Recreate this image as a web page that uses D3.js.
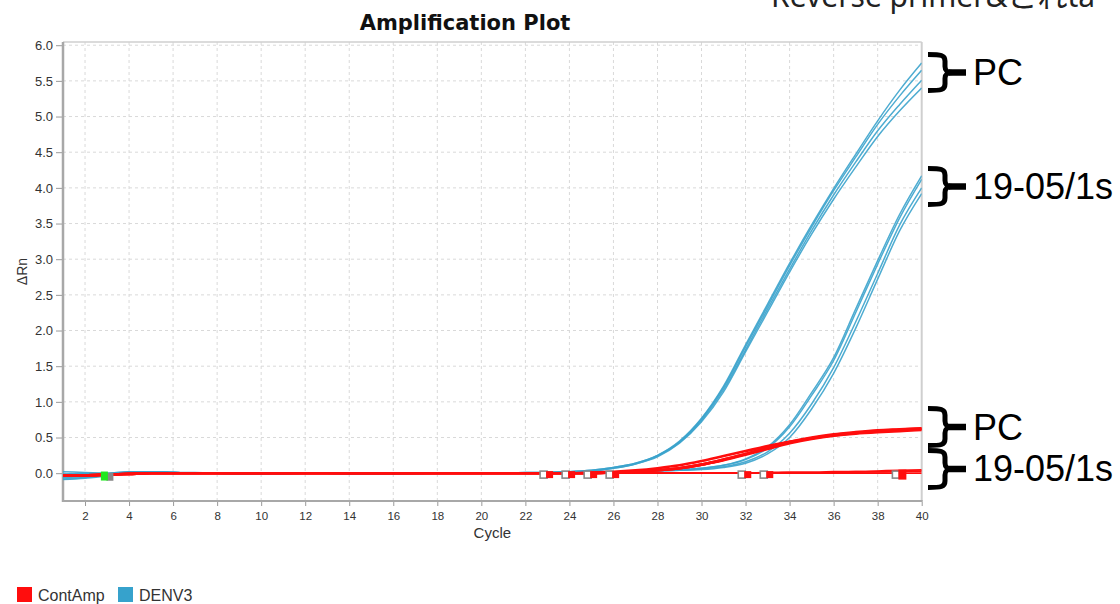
<!DOCTYPE html>
<html>
<head>
<meta charset="utf-8">
<script src="https://cdn.jsdelivr.net/npm/d3@7"></script>
<style>
  html, body { margin: 0; padding: 0; background: #fff; }
  svg { display: block; }
</style>
</head>
<body>
<svg id="chart" width="1120" height="604"></svg>
<script>
// ---------------- DATA ----------------
const cycles = [1,2,3,4,5,6,7,8,9,10,11,12,13,14,15,16,17,18,19,20,21,22,23,24,25,26,27,28,29,30,31,32,33,34,35,36,37,38,39,40];
const xTicks = [2,4,6,8,10,12,14,16,18,20,22,24,26,28,30,32,34,36,38,40];
const yTicks = [0.0,0.5,1.0,1.5,2.0,2.5,3.0,3.5,4.0,4.5,5.0,5.5,6.0];

// DENV3 – PC wells
const denvPC1 = [0.02,0.01,0.0,0.02,0.02,0.01,0.01,0.0,0.0,0.0,0.0,0.0,0.0,0.0,0.0,0.0,0.0,0.0,0.0,0.0,0.0,0.01,0.01,0.02,0.04,0.08,0.14,0.25,0.45,0.77,1.22,1.8,2.37,2.94,3.48,3.99,4.47,4.94,5.37,5.75];
const denvPC2 = [-0.02,-0.01,-0.01,0.01,0.02,0.01,0.0,0.0,0.0,-0.01,0.0,0.0,0.0,0.0,-0.01,-0.01,0.0,0.0,0.0,0.0,0.0,0.01,0.01,0.02,0.04,0.08,0.14,0.25,0.44,0.76,1.2,1.77,2.34,2.91,3.45,3.96,4.43,4.89,5.29,5.65];
const denvPC3 = [-0.06,-0.05,-0.03,0.0,0.02,0.01,0.0,0.0,-0.01,0.0,-0.01,0.0,0.0,-0.01,-0.01,-0.01,0.0,0.0,0.0,0.0,0.0,0.0,0.01,0.02,0.03,0.07,0.13,0.24,0.43,0.74,1.17,1.73,2.3,2.86,3.4,3.9,4.36,4.8,5.17,5.51];
const denvPC4 = [-0.09,-0.07,-0.04,0.0,0.01,0.01,0.0,0.0,-0.01,-0.01,-0.01,0.0,0.0,-0.01,-0.01,-0.01,-0.01,0.0,0.0,0.0,0.0,0.0,0.01,0.01,0.03,0.07,0.13,0.23,0.42,0.72,1.14,1.7,2.26,2.82,3.35,3.84,4.29,4.72,5.08,5.4];
// DENV3 – sample 19-05/1s wells
const denvS1 = [-0.01,0.0,0.0,0.02,0.02,0.01,0.0,0.0,0.0,0.0,0.0,0.0,0.0,0.0,0.0,0.0,0.0,0.0,0.0,0.0,0.0,0.0,0.01,0.01,0.01,0.02,0.03,0.04,0.05,0.07,0.11,0.2,0.37,0.68,1.13,1.62,2.3,2.98,3.63,4.17];
const denvS2 = [-0.03,-0.02,-0.01,0.01,0.02,0.01,0.0,0.0,0.0,0.0,0.0,0.0,0.0,0.0,0.0,0.0,0.0,0.0,0.0,0.0,0.0,0.0,0.0,0.01,0.01,0.02,0.03,0.04,0.05,0.07,0.11,0.19,0.35,0.65,1.09,1.58,2.25,2.93,3.58,4.12];
const denvS3 = [-0.05,-0.04,-0.02,0.01,0.02,0.01,0.0,0.0,-0.01,0.0,0.0,0.0,0.0,-0.01,0.0,0.0,0.0,0.0,0.0,0.0,0.0,0.0,0.0,0.01,0.01,0.02,0.02,0.03,0.04,0.06,0.09,0.16,0.3,0.56,0.97,1.48,2.12,2.8,3.48,4.0];
const denvS4 = [-0.08,-0.06,-0.03,0.0,0.01,0.01,0.0,0.0,-0.01,-0.01,0.0,0.0,0.0,-0.01,-0.01,0.0,0.0,0.0,0.0,0.0,0.0,0.0,0.0,0.0,0.01,0.01,0.02,0.03,0.04,0.05,0.08,0.14,0.27,0.5,0.9,1.4,2.03,2.72,3.4,3.92];
// ContAmp – PC wells (rising)
const contPC1 = [-0.03,-0.03,-0.02,-0.01,0.0,0.0,0.0,0.0,0.0,0.0,0.0,0.0,0.0,0.0,0.0,0.0,0.0,0.0,0.0,0.0,0.0,0.0,0.0,0.0,0.01,0.02,0.04,0.07,0.11,0.17,0.24,0.31,0.38,0.44,0.49,0.53,0.565,0.59,0.61,0.625];
const contPC2 = [-0.03,-0.03,-0.02,-0.01,0.0,0.0,0.0,0.0,0.0,0.0,0.0,0.0,0.0,0.0,0.0,0.0,0.0,0.0,0.0,0.0,0.0,0.0,0.0,0.0,0.0,0.01,0.02,0.04,0.07,0.12,0.19,0.27,0.35,0.43,0.49,0.535,0.565,0.585,0.6,0.615];
const contPC3 = [-0.03,-0.03,-0.02,-0.01,0.0,0.0,0.0,0.0,0.0,0.0,0.0,0.0,0.0,0.0,0.0,0.0,0.0,0.0,0.0,0.0,0.0,0.0,0.0,0.0,0.0,0.01,0.02,0.04,0.07,0.12,0.18,0.26,0.34,0.42,0.48,0.525,0.555,0.575,0.59,0.605];
const contPC4 = [-0.03,-0.03,-0.02,-0.01,0.0,0.0,0.0,0.0,0.0,0.0,0.0,0.0,0.0,0.0,0.0,0.0,0.0,0.0,0.0,0.0,0.0,0.0,0.0,0.0,0.0,0.01,0.02,0.04,0.07,0.12,0.19,0.27,0.36,0.44,0.5,0.545,0.575,0.6,0.615,0.63];
// ContAmp – sample 19-05/1s wells (flat)
const contS1 = [-0.03,-0.03,-0.02,-0.01,0.0,0.0,0.0,0.0,0.0,0.0,0.0,0.0,0.0,0.0,0.0,0.0,0.0,0.0,0.0,0.0,0.0,0.0,0.0,0.0,0.0,0.0,0.0,0.0,0.0,0.0,0.0,0.0,0.01,0.01,0.01,0.02,0.02,0.03,0.04,0.045];
const contS2 = [-0.03,-0.03,-0.02,-0.01,0.0,0.0,0.0,0.0,0.0,0.0,0.0,0.0,0.0,0.0,0.0,0.0,0.0,0.0,0.0,0.0,0.0,0.0,0.0,0.0,0.0,0.0,0.0,0.0,0.0,0.0,0.0,0.0,0.0,0.01,0.01,0.01,0.02,0.02,0.025,0.03];
const contS3 = [-0.03,-0.03,-0.02,-0.01,0.0,0.0,0.0,0.0,0.0,0.0,0.0,0.0,0.0,0.0,0.0,0.0,0.0,0.0,0.0,0.0,0.0,0.0,0.0,0.0,0.0,0.0,0.0,0.0,0.0,0.0,0.0,0.0,0.0,0.0,0.0,0.0,0.0,0.0,0.0,0.0];

const denvSeries = [denvPC1, denvPC2, denvPC3, denvPC4, denvS1, denvS2, denvS3, denvS4];
const contFlat = [contS1, contS2, contS3];
const contRising = [contPC1, contPC2, contPC3, contPC4];

// Ct / threshold markers near baseline
const ctCycles = [23.1, 24.1, 25.1, 26.1, 32.1, 33.1, 39.1];
const ctValue = -0.02;
const baselineStart = [2.88];
const baselineEnd = [3.13];

const legendItems = ["ContAmp", "DENV3"];
const title = "Amplification Plot";
const xLabel = "Cycle";
const yLabel = "ΔRn";
const topNote = "Reverse primer&これta";
const groupLabels = ["PC", "19-05/1s", "PC", "19-05/1s"];

// ---------------- DRAW ----------------
const svg = d3.select("#chart");
const colRed = "#ff0d0d";
const colBlue = "#3ba3cc";

const x = d3.scaleLinear().domain([1, 40]).range([63, 921.7]);
const y = d3.scaleLinear().domain([-0.39, 6.045]).range([501, 42]);

const L = x.range()[0], R = x.range()[1], T = y.range()[1], B = y.range()[0];

// grid
const grid = svg.append("g");
grid.selectAll("line.v").data(xTicks.filter(d => d < 40)).join("line")
  .attr("x1", d => x(d)).attr("x2", d => x(d)).attr("y1", T).attr("y2", B)
  .attr("stroke", "#d9d9d9").attr("stroke-dasharray", "3,3");
grid.selectAll("line.h").data(yTicks).join("line")
  .attr("x1", L).attr("x2", R).attr("y1", d => y(d)).attr("y2", d => y(d))
  .attr("stroke", "#d9d9d9").attr("stroke-dasharray", "3,3");

// frame
svg.append("line").attr("x1", L).attr("x2", R).attr("y1", T).attr("y2", T).attr("stroke", "#cfcfcf").attr("stroke-width", 1.5);
svg.append("line").attr("x1", R).attr("x2", R).attr("y1", T).attr("y2", B).attr("stroke", "#cfcfcf").attr("stroke-width", 2);

// axes
const yAxis = d3.axisLeft(y).tickValues(yTicks).tickFormat(d3.format(".1f")).tickSize(6).tickPadding(3);
const gy = svg.append("g").attr("transform", `translate(${L - 1},0)`).call(yAxis);
gy.select(".domain").remove();
gy.selectAll(".tick line").attr("stroke", "#9a9a9a");
gy.selectAll(".tick text").attr("font-family", "Liberation Sans, Arial, sans-serif").attr("font-size", 13).attr("fill", "#333");

const xAxis = d3.axisBottom(x).tickValues(xTicks).tickSize(4).tickPadding(6);
const gx = svg.append("g").attr("transform", `translate(0,${B + 1})`).call(xAxis);
gx.select(".domain").remove();
gx.selectAll(".tick line").attr("stroke", "#9a9a9a");
gx.selectAll(".tick text").attr("font-family", "Liberation Sans, Arial, sans-serif").attr("font-size", 11.5).attr("fill", "#333");

svg.append("line").attr("x1", L).attr("x2", L).attr("y1", T).attr("y2", B + 1).attr("stroke", "#a8a8a8").attr("stroke-width", 2.5);
svg.append("line").attr("x1", L).attr("x2", R + 1).attr("y1", B).attr("y2", B).attr("stroke", "#a8a8a8").attr("stroke-width", 2);

// lines
const line = d3.line().x((d, i) => x(cycles[i])).y(d => y(d)).curve(d3.curveMonotoneX);
svg.append("clipPath").attr("id", "plotclip").append("rect")
  .attr("x", L).attr("y", T).attr("width", R - L).attr("height", B - T);
const lines = svg.append("g").attr("clip-path", "url(#plotclip)");
lines.selectAll("path.blue").data(denvSeries).join("path").attr("class", "blue")
  .attr("d", line).attr("fill", "none").attr("stroke", colBlue).attr("stroke-width", 1.5).attr("stroke-opacity", 0.9);
lines.selectAll("path.redflat").data(contFlat).join("path").attr("class", "redflat")
  .attr("d", line).attr("fill", "none").attr("stroke", colRed).attr("stroke-width", 1.8);
lines.selectAll("path.redrise").data(contRising).join("path").attr("class", "redrise")
  .attr("d", line).attr("fill", "none").attr("stroke", colRed).attr("stroke-width", 2.6);

// markers
const mk = svg.append("g");
mk.selectAll("rect.gray").data(ctCycles).join("rect").attr("class", "gray")
  .attr("x", d => x(d) - 9.5).attr("y", y(ctValue) - 3.5).attr("width", 7).attr("height", 7)
  .attr("fill", "#fff").attr("stroke", "#8a8a8a").attr("stroke-width", 1.6);
mk.selectAll("rect.red").data(ctCycles).join("rect").attr("class", "red")
  .attr("x", d => x(d) - 3.5).attr("y", (d, i) => y(ctValue) - (i === ctCycles.length - 1 ? 5 : 3.5))
  .attr("width", (d, i) => i === ctCycles.length - 1 ? 8 : 7)
  .attr("height", (d, i) => i === ctCycles.length - 1 ? 10 : 7)
  .attr("fill", colRed);
mk.selectAll("rect.bend").data(baselineEnd).join("rect").attr("class", "bend")
  .attr("x", d => x(d) - 3.5).attr("y", y(-0.05) - 4).attr("width", 7).attr("height", 8).attr("fill", "#888");
mk.selectAll("rect.bstart").data(baselineStart).join("rect").attr("class", "bstart")
  .attr("x", d => x(d) - 3.5).attr("y", y(-0.04) - 4.5).attr("width", 7).attr("height", 9).attr("fill", "#1fe81f");

// titles
svg.append("text").attr("x", 465).attr("y", 30).attr("text-anchor", "middle")
  .attr("font-family", "DejaVu Sans, sans-serif").attr("font-weight", "bold").attr("font-size", 21).attr("fill", "#111")
  .text(title);
svg.append("text").attr("x", (L + R) / 2).attr("y", 538).attr("text-anchor", "middle")
  .attr("font-family", "Liberation Sans, Arial, sans-serif").attr("font-size", 15).attr("fill", "#333").text(xLabel);
svg.append("text").attr("transform", `translate(27,${(T + B) / 2}) rotate(-90)`).attr("text-anchor", "middle")
  .attr("font-family", "Liberation Sans, Arial, sans-serif").attr("font-size", 14).attr("fill", "#333").text(yLabel);

// top note (cut off at the top edge, as in the source slide)
svg.append("text").attr("x", 771).attr("y", 7)
  .attr("font-family", "Noto Sans, Noto Sans CJK JP, sans-serif").attr("font-size", 30).attr("fill", "#222")
  .text(topNote);

// legend
svg.append("clipPath").attr("id", "legclip").append("rect").attr("x", 0).attr("y", 570).attr("width", 105).attr("height", 34);
const legend = svg.append("g");
const legX = [17, 118];
const legColors = [colRed, "#36a2cc"];
legend.selectAll("rect").data(legendItems).join("rect")
  .attr("x", (d, i) => legX[i]).attr("y", 587).attr("width", 15).attr("height", 15).attr("fill", (d, i) => legColors[i]);
legend.selectAll("text").data(legendItems).join("text")
  .attr("x", (d, i) => legX[i] + 21).attr("y", 601)
  .attr("clip-path", (d, i) => i === 0 ? "url(#legclip)" : null)
  .attr("font-family", "Liberation Sans, Arial, sans-serif").attr("font-size", 16).attr("fill", "#333")
  .text(d => d);

// group braces + labels
const braces = [[52, 93], [166, 207], [406, 448], [448, 490]];
const labelBase = [85, 199, 440, 481];
const bg = svg.append("g");
braces.forEach(([t, b], i) => {
  const m = (t + b) / 2, x0 = 928, xv = 945, xt = 966;
  const p = d3.path();
  p.moveTo(x0, t + 2.5);
  p.bezierCurveTo(xv - 4, t + 2.5, xv, t + 3, xv, t + 9);
  p.lineTo(xv, m - 6);
  p.bezierCurveTo(xv, m - 1, xv + 3, m, xv + 8, m);
  p.lineTo(xt, m);
  p.moveTo(xv + 8, m);
  p.bezierCurveTo(xv + 3, m, xv, m + 1, xv, m + 6);
  p.lineTo(xv, b - 9);
  p.bezierCurveTo(xv, b - 3, xv - 4, b - 2.5, x0, b - 2.5);
  bg.append("path").attr("d", p.toString()).attr("fill", "none").attr("stroke", "#000")
    .attr("stroke-width", 5).attr("stroke-linejoin", "round");
  bg.append("line").attr("x1", xv + 4).attr("x2", xt).attr("y1", m).attr("y2", m).attr("stroke", "#000").attr("stroke-width", 6.5);
  bg.append("text").attr("x", 973).attr("y", labelBase[i])
    .attr("font-family", "Liberation Sans, Arial, sans-serif").attr("font-size", 36).attr("fill", "#000")
    .text(groupLabels[i]);
});
</script>
</body>
</html>
